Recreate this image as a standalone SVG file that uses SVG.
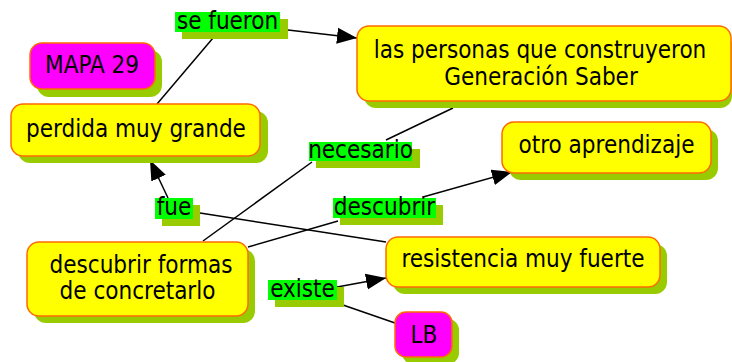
<svg xmlns="http://www.w3.org/2000/svg" width="732" height="362" viewBox="0 0 732 362">
<style>
.sh{fill:#99CC00}
.y{fill:#FFFF00;stroke:#FF6A00;stroke-width:1.5}
.m{fill:#FF00FF;stroke:#FF6A00;stroke-width:1.5}
.lg{fill:#00FF00}
.t{font-family:"DejaVu Sans Condensed","DejaVu Sans",sans-serif;font-stretch:condensed;font-size:24px;fill:#000;text-anchor:middle}
.c{stroke:#000;stroke-width:1.5;fill:none}
</style>
<defs>
<marker id="ah" markerUnits="userSpaceOnUse" markerWidth="22" markerHeight="18" refX="20" refY="9" orient="auto">
<path d="M0,1 L20,9 L0,17 Z" fill="#000"/>
</marker>
</defs>
<g id="connectors">
<line class="c" x1="157" y1="104" x2="213" y2="38"/>
<line class="c" x1="288" y1="30" x2="357" y2="38" marker-end="url(#ah)"/>
<line class="c" x1="203" y1="241" x2="312" y2="162"/>
<line class="c" x1="386" y1="140" x2="453" y2="108"/>
<line class="c" x1="248" y1="247" x2="338" y2="221"/>
<line class="c" x1="423" y1="197" x2="512" y2="172" marker-end="url(#ah)"/>
<line class="c" x1="386" y1="242" x2="200" y2="213"/>
<line class="c" x1="168" y1="198" x2="150" y2="160" marker-end="url(#ah)"/>
<line class="c" x1="395" y1="323" x2="343" y2="305"/>
<line class="c" x1="337" y1="287" x2="386" y2="278" marker-end="url(#ah)"/>
</g>
<g id="lbl-sefueron">
<rect class="sh" x="182" y="19" width="106" height="20"/>
<rect class="lg" x="175" y="12" width="105" height="20"/>
<text class="t" x="227.5" y="29">se fueron</text>
</g>
<g id="lbl-necesario">
<rect class="sh" x="316" y="149" width="104" height="19"/>
<rect class="lg" x="309" y="142" width="103" height="19"/>
<text class="t" x="360.5" y="158">necesario</text>
</g>
<g id="lbl-fue">
<rect class="sh" x="162" y="205" width="38" height="21"/>
<rect class="lg" x="155" y="198" width="38" height="21"/>
<text class="t" x="174" y="215">fue</text>
</g>
<g id="lbl-descubrir">
<rect class="sh" x="340" y="205" width="103" height="20"/>
<rect class="lg" x="333" y="198" width="103" height="20"/>
<text class="t" x="384.5" y="215">descubrir</text>
</g>
<g id="lbl-existe">
<rect class="sh" x="275" y="287" width="69" height="20"/>
<rect class="lg" x="268" y="280" width="69" height="20"/>
<text class="t" x="302.5" y="297">existe</text>
</g>
<g id="n-mapa29">
<rect class="sh" x="37" y="50" width="125" height="47" rx="12"/>
<rect class="m" x="30" y="43" width="125" height="46" rx="12"/>
<text class="t" x="92" y="73">MAPA 29</text>
</g>
<g id="n-perdida">
<rect class="sh" x="18" y="111" width="250" height="52" rx="12"/>
<rect class="y" x="11" y="104" width="249" height="52" rx="12"/>
<text class="t" x="136" y="137">perdida muy grande</text>
</g>
<g id="n-personas">
<rect class="sh" x="364" y="33" width="368" height="75" rx="12"/>
<rect class="y" x="357" y="26" width="374" height="75" rx="12"/>
<text class="t" x="540" y="58">las personas que construyeron</text>
<text class="t" x="541" y="85">Generación Saber</text>
</g>
<g id="n-otro">
<rect class="sh" x="509" y="129" width="209" height="51" rx="12"/>
<rect class="y" x="502" y="122" width="209" height="51" rx="12"/>
<text class="t" x="606.5" y="153">otro aprendizaje</text>
</g>
<g id="n-descubrir">
<rect class="sh" x="34" y="249" width="221" height="74" rx="12"/>
<rect class="y" x="27" y="242" width="221" height="74" rx="12"/>
<text class="t" x="141" y="273">descubrir formas</text>
<text class="t" x="137.5" y="299">de concretarlo</text>
</g>
<g id="n-resistencia">
<rect class="sh" x="393" y="244" width="274" height="50" rx="12"/>
<rect class="y" x="386" y="237" width="274" height="50" rx="12"/>
<text class="t" x="523" y="267">resistencia muy fuerte</text>
</g>
<g id="n-lb">
<rect class="sh" x="402" y="319" width="57" height="45" rx="11"/>
<rect class="m" x="395" y="312" width="57" height="45" rx="11"/>
<text class="t" x="424" y="343">LB</text>
</g>
</svg>
